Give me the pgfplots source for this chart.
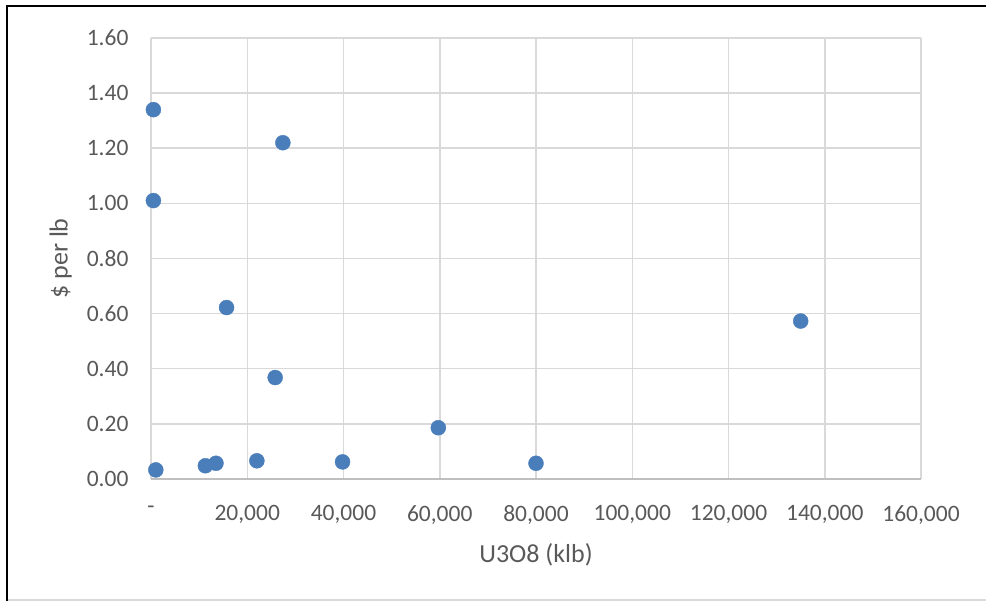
\documentclass[border=0pt]{standalone}
\usepackage{pgfplots}
\pgfplotsset{compat=1.18}
\usepackage{fontspec}
\setmainfont{Carlito}
\definecolor{txt}{HTML}{595959}
\definecolor{gridc}{HTML}{D9D9D9}
\definecolor{axc}{HTML}{BFBFBF}
\definecolor{mk}{HTML}{4A7EBB}
\begin{document}
\begin{tikzpicture}[x=1pt,y=1pt]
\path[use as bounding box] (0,0) rectangle (986,601);
\draw[gridc, line width=1.5] (7,1) -- (986,1);
\draw[black, line width=2] (7,0) -- (7,595) -- (986,595);
\begin{axis}[
  at={(151pt,122pt)}, anchor=south west,
  scale only axis, width=770pt, height=441pt,
  xmin=0, xmax=160000, ymin=0, ymax=1.6,
  xtick={0,20000,40000,60000,80000,100000,120000,140000,160000},
  xticklabels={-,{20,000},{40,000},{60,000},{80,000},{100,000},{120,000},{140,000},{160,000}},
  ytick={0,0.2,0.4,0.6,0.8,1.0,1.2,1.4,1.6},
  yticklabels={0.00,0.20,0.40,0.60,0.80,1.00,1.20,1.40,1.60},
  scaled x ticks=false,
  grid=major, major grid style={gridc, line width=1.5pt},
  axis line style={draw=none},
  axis lines*=left,
  tick style={draw=none},
  ticklabel style={font=\fontsize{23.5}{27}\selectfont, text=txt},
  xticklabel style={yshift=-23pt},
  yticklabel style={xshift=-19pt},
  xlabel={U3O8 (klb)}, ylabel={\$ per lb},
  label style={font=\fontsize{26}{30}\selectfont, text=txt},
  xlabel style={yshift=-12pt},
  ylabel style={yshift=8pt},
  clip=false,
]
\draw[axc, line width=1.5pt] (axis cs:0,0) -- (axis cs:160000,0);
\addplot[only marks, mark=*, mark size=7.5pt, mark options={fill=mk, draw=mk}] coordinates {
(500,1.34) (500,1.01) (27400,1.22) (15700,0.622) (25800,0.368) (59700,0.186)
(1000,0.033) (11300,0.048) (13500,0.057) (22000,0.066) (39800,0.062) (80000,0.057) (135000,0.573)
};
\end{axis}
\end{tikzpicture}
\end{document}
